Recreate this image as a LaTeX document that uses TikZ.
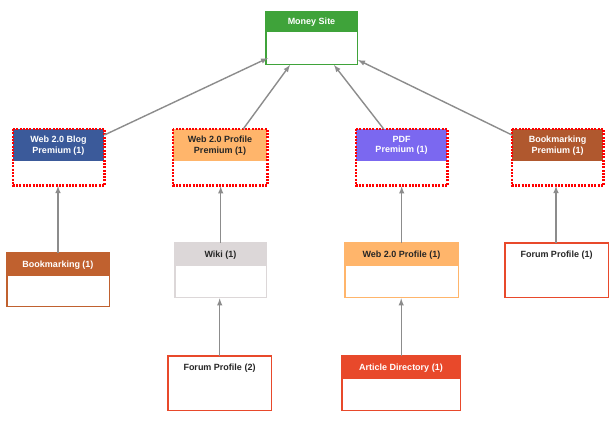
\documentclass[tikz,border=0pt]{standalone}
\usepackage{fontspec}
\setmainfont{Liberation Sans}
\definecolor{cgreen}{HTML}{3FA33A}
\definecolor{cblue}{HTML}{3B5A9A}
\definecolor{corange}{HTML}{FFB56B}
\definecolor{cviolet}{HTML}{7B68F0}
\definecolor{cbrown}{HTML}{B0582E}
\definecolor{cbrown2}{HTML}{C0612F}
\definecolor{cgray}{HTML}{DCD7D8}
\definecolor{cred}{HTML}{E8492B}
\definecolor{carrow}{HTML}{8C8C8C}
\begin{document}
\begin{tikzpicture}[x=1pt,y=-1pt,
 arr/.style={draw=carrow,line width=1.4pt,-latex},
 prem/.style={draw=red,line width=2.4pt,dash pattern=on 2pt off 1.3pt},
 plain/.style={line width=1.5pt}]
\fill[white] (0,0) rectangle (615,420);
\useasboundingbox (0,0) rectangle (615,420);
\def\B#1#2#3#4#5#6#7#8#9{%
 \fill[#7] (#2,#3) rectangle (#4,#6);
 \node[inner sep=0,align=center,text=#8,font=\bfseries\fontsize{9}{10.5}\selectfont] at ({(#2+#4)/2},{(#3+#6)/2+0.5}) {#9};
 \node[inner sep=0,minimum width={#4-#2},minimum height={#5-#3},anchor=north west] (#1) at (#2,#3) {};
}
\B{ms}{266}{12}{357}{64}{32}{cgreen}{white}{Money Site}
\draw[plain,draw=cgreen] (ms.north west) rectangle (ms.south east);

\B{blog}{13}{129}{104}{185}{161}{cblue}{white}{Web 2.0 Blog\\Premium (1)}
\B{prof}{173}{129}{267}{185}{161}{corange}{black!85}{Web 2.0 Profile\\Premium (1)}
\B{pdf}{356}{129}{447}{185}{161}{cviolet}{white}{PDF\\Premium (1)}
\B{bm}{512}{129}{603}{185}{161}{cbrown}{white}{Bookmarking\\Premium (1)}
\foreach \n in {blog,prof,pdf,bm} \draw[prem] (\n.north west) rectangle (\n.south east);

\B{bm1}{7}{253}{109}{306}{276}{cbrown2}{white}{Bookmarking (1)}
\draw[plain,draw=cbrown2] (bm1.north west) rectangle (bm1.south east);
\B{wiki}{175}{243}{266}{297}{266}{cgray}{black!85}{Wiki (1)}
\draw[plain,draw=cgray] (wiki.north west) rectangle (wiki.south east);
\B{wp}{345}{243}{458}{297}{266}{corange}{black!85}{Web 2.0 Profile (1)}
\draw[plain,draw=corange] (wp.north west) rectangle (wp.south east);
\B{fp1}{505}{243}{608}{297}{266}{white}{black!85}{Forum Profile (1)}
\draw[plain,draw=cred] (fp1.north west) rectangle (fp1.south east);
\B{fp2}{168}{356}{271}{410}{379}{white}{black!85}{Forum Profile (2)}
\draw[plain,draw=cred] (fp2.north west) rectangle (fp2.south east);
\B{ad}{342}{356}{460}{410}{379}{cred}{white}{Article Directory (1)}
\draw[plain,draw=cred] (ad.north west) rectangle (ad.south east);

\coordinate (m1) at (268,58); \coordinate (m2) at (290,65);
\coordinate (m3) at (334,65); \coordinate (m4) at (358,60);
\coordinate (b1) at (58,253); \coordinate (b1t) at (58,186);
\coordinate (f1) at (556,243); \coordinate (f1t) at (556,186);
\draw[arr] (blog.north east) ++(0,6) -- (m1);
\draw[arr] (prof.north) ++(23,0) -- (m2);
\draw[arr] (pdf.north) ++(-18,0) -- (m3);
\draw[arr] (bm.north west) ++(0,6) -- (m4);
\draw[arr] (b1) -- (b1t);
\draw[arr] (wiki.north) -- ([yshift=-1pt]wiki.north |- prof.south);
\draw[arr] (wp.north) -- ([yshift=-1pt]wp.north |- pdf.south);
\draw[arr] (f1) -- (f1t);
\draw[arr] (fp2.north) -- ([yshift=-1pt]fp2.north |- wiki.south);
\draw[arr] (ad.north) -- ([yshift=-1pt]ad.north |- wp.south);
\end{tikzpicture}
\end{document}
